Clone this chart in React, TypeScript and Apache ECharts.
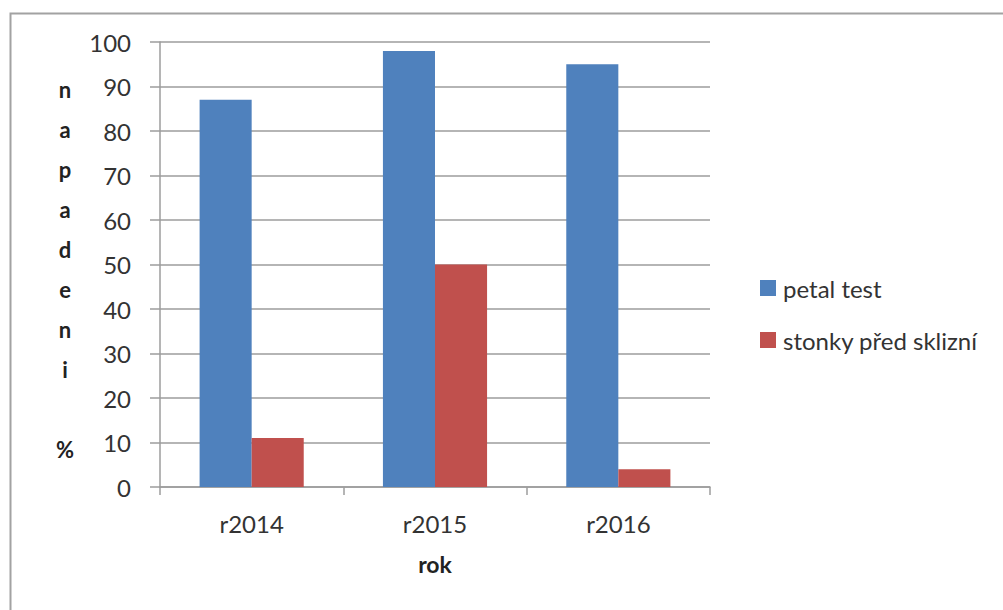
import React, { useEffect, useRef } from "react";
import * as echarts from "echarts";

const years = ["r2014", "r2015", "r2016"];
const petalTest = [87, 98, 95];
const stonky = [11, 50, 4];
const seriesNames = ["petal test", "stonky před sklizní"];
const yAxisTitle = ["n", "a", "p", "a", "d", "e", "n", "i", "", "%"];
const xAxisTitle = "rok";

const FONT = "Lato, 'Open Sans', sans-serif";
const TEXT = "#333333";
const LINE = "#9c9c9c";

export default function App() {
  const ref = useRef<HTMLDivElement>(null);

  useEffect(() => {
    if (!ref.current) return;
    const chart = echarts.init(ref.current, undefined, { renderer: "svg" });
    chart.setOption({
      animation: false,
      backgroundColor: "#ffffff",
      textStyle: { fontFamily: FONT },
      grid: { left: 160, right: 293, top: 42, bottom: 123 },
      legend: {
        orient: "vertical",
        left: 755,
        top: 271,
        itemWidth: 16,
        itemHeight: 16,
        itemGap: 28,
        icon: "rect",
        data: seriesNames,
        textStyle: { fontFamily: FONT, fontSize: 24, color: TEXT, padding: [0, 0, 0, 2] },
      },
      xAxis: {
        type: "category",
        data: years,
        name: xAxisTitle,
        nameLocation: "middle",
        nameGap: 65,
        nameTextStyle: { fontFamily: FONT, fontSize: 23, fontWeight: "bold", color: "#222" },
        axisLine: { show: true, lineStyle: { color: LINE, width: 1.5 } },
        axisTick: { show: true, length: 8, lineStyle: { color: LINE, width: 1.5 } },
        axisLabel: { margin: 24, fontFamily: FONT, fontSize: 24, color: TEXT },
      },
      yAxis: {
        type: "value",
        min: 0,
        max: 100,
        interval: 10,
        axisLine: { show: true, lineStyle: { color: LINE, width: 1.5 } },
        axisTick: { show: true, length: 10, lineStyle: { color: LINE, width: 1.5 } },
        axisLabel: { margin: 29, fontFamily: FONT, fontSize: 24, color: TEXT },
        splitLine: { show: true, lineStyle: { color: LINE, width: 1.5 } },
      },
      series: [
        {
          name: seriesNames[0],
          type: "bar",
          data: petalTest,
          barWidth: "28.4%",
          barGap: "0%",
          itemStyle: { color: "#4F81BD" },
        },
        {
          name: seriesNames[1],
          type: "bar",
          data: stonky,
          barWidth: "28.4%",
          barGap: "0%",
          itemStyle: { color: "#C0504D" },
        },
      ],
      graphic: [
        {
          type: "rect",
          left: 8,
          top: 11,
          shape: { width: 1100, height: 700 },
          style: { fill: "none", stroke: "#a2a2a2", lineWidth: 2 },
          silent: true,
        },
        {
          type: "text",
          x: 65,
          y: 269,
          style: {
            text: yAxisTitle.join("\n"),
            fontFamily: FONT,
            fontSize: 22,
            fontWeight: "bold",
            lineHeight: 40,
            fill: "#222",
            align: "center",
            verticalAlign: "middle",
          },
        },
      ],
    });
    return () => chart.dispose();
  }, []);

  return (
    <div
      ref={ref}
      style={{ position: "fixed", left: 0, top: 0, width: 1003, height: 610 }}
    />
  );
}
